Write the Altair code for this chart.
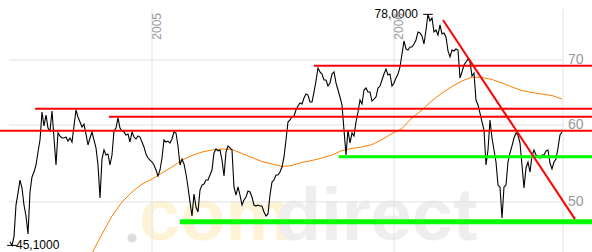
import altair as alt
import pandas as pd

# ---------------- data ----------------
# closing prices, one sample about every three days, late May 2004 .. Sep 2006
price = [
    45.50, 45.10, 46.04, 49.63, 51.06, 52.66, 51.67, 49.63, 48.36, 46.33,
    51.19, 53.04, 53.67, 54.57, 56.28, 57.90, 61.88, 59.86, 61.44, 59.57,
    59.15, 62.02, 58.18, 54.57, 58.87, 58.45, 58.18, 58.18, 58.31, 57.76,
    58.18, 57.63, 59.86, 62.17, 61.15, 60.43, 59.72, 60.14, 58.73, 57.22,
    58.18, 59.01, 57.90, 56.82, 54.57, 50.46, 55.35, 56.55, 55.88, 56.01,
    54.57, 55.88, 59.15, 59.57, 61.01, 59.57, 59.15, 59.01, 58.59, 58.73,
    57.63, 59.01, 58.31, 58.04, 58.45, 58.31, 57.63, 56.95, 56.01, 55.48,
    55.22, 54.96, 54.57, 53.93, 53.16, 53.93, 55.48, 57.90, 57.63, 57.76,
    57.49, 58.04, 59.01, 58.87, 57.09, 54.57, 55.35, 54.70, 53.42, 51.80,
    49.98, 48.36, 50.94, 49.40, 48.82, 51.43, 52.04, 52.16, 52.66, 52.66,
    53.29, 53.93, 56.15, 56.68, 56.42, 56.55, 55.22, 53.16, 56.28, 57.09,
    56.82, 56.55, 51.80, 50.82, 51.80, 50.82, 49.63, 50.22, 50.58, 51.31,
    51.19, 50.58, 49.63, 49.51, 49.63, 49.51, 49.51, 48.82, 48.36, 48.59,
    50.82, 52.41, 52.66, 53.29, 53.29, 53.67, 54.31, 55.62, 57.90, 60.43,
    60.72, 61.15, 61.29, 62.17, 62.76, 63.21, 63.06, 63.96, 64.57, 64.42,
    63.36, 63.36, 64.88, 66.60, 68.68, 68.04, 67.71, 66.76, 66.76, 65.81,
    66.29, 67.71, 68.04, 66.29, 65.19, 64.12, 62.91, 59.29, 55.88, 59.29,
    57.49, 58.87, 58.45, 60.43, 61.88, 63.66, 63.06, 65.19, 65.50, 64.88,
    64.88, 63.51, 63.81, 64.12, 65.50, 65.81, 66.76, 67.71, 68.52, 67.55,
    67.71, 65.81, 66.29, 67.08, 67.71, 68.85, 71.00, 73.23, 71.85, 71.68,
    72.19, 72.19, 72.70, 73.40, 74.81, 74.63, 74.10, 72.70, 75.16, 78.00,
    76.79, 77.33, 74.81, 75.16, 74.28, 76.06, 74.46, 74.63, 73.93, 71.51,
    70.50, 71.68, 71.51, 71.85, 71.68, 67.08, 68.04, 69.17, 69.67, 70.17,
    69.67, 67.39, 67.87, 63.66, 62.91, 61.73, 60.43, 59.29, 54.57, 56.55,
    60.72, 58.18, 56.55, 54.96, 52.04, 51.80, 48.13, 51.80, 52.04, 54.96,
    56.15, 57.09, 58.18, 58.87, 58.59, 57.49, 54.57, 51.67, 54.19, 54.96,
    53.67, 55.75, 56.55, 55.88, 55.75, 55.48, 55.88, 55.88, 56.42, 56.55,
    54.83, 54.06, 54.96, 55.35, 56.82, 58.59, 59.01,
]
T0 = 2004.4132          # first sample, in decimal years
STEP = 1 / 121          # about three days per sample

# 200-day moving average, every fifth sample starting at sample 41
ma200 = [
    44.28, 46.33, 48.36, 49.98, 51.19, 52.16, 52.79, 53.55, 54.31, 55.22,
    55.81, 56.28, 56.55, 56.68, 56.62, 56.08, 55.55, 55.02, 54.70, 54.38,
    54.51, 54.90, 55.16, 55.48, 55.88, 56.48, 56.77, 56.95, 57.29, 57.97,
    58.80, 59.50, 61.01, 62.17, 63.58, 64.73, 65.74, 66.60, 67.23, 67.15,
    66.84, 66.29, 65.66, 65.11, 64.80, 64.57, 64.34, 63.81,
]
MA_FIRST, MA_EVERY = 41, 5

# support / resistance lines: level and first date (decimal years)
red_levels = [69.06, 62.35, 61.20, 59.19]
red_from = [2005.669, 2004.517, 2004.822, 2004.372]
green_levels = [55.66, 47.71]
green_from = [2005.771, 2005.116]
green_width = [3, 5]
# falling trend line
trend_t = [2006.2025, 2006.7479]
trend_v = [76.97, 48.00]

year_ticks = [2005, 2006]
year_labels = ["2005", "2006"]
y_ticks = [50, 60, 70]
y_labels = ["50", "60", "70"]

# ---------------- layout ----------------
W, H = 592, 252
X_MIN, X_MAX = 2004.3719, 2006.8182
Y_MIN, Y_MAX = 44.40, 80.70
GRID_START, GRID_END, GRID_TOP = 2004.4091, 2006.6983, 79.0
FONT = "Liberation Sans"
WM_FONT = "Liberation Sans Narrow, Liberation Sans"
GRID_C = "#e2e2e2"
LABEL_C = "#999999"

xs = alt.Scale(domain=[X_MIN, X_MAX], nice=False, zero=False)
ys = alt.Scale(type="log", domain=[Y_MIN, Y_MAX], nice=False)


def X(f):
    return alt.X(f, type="quantitative", scale=xs, axis=None)


def Y(f):
    return alt.Y(f, type="quantitative", scale=ys, axis=None)


df_price = pd.DataFrame({"t": [T0 + i * STEP for i in range(len(price))], "v": price})
df_ma = pd.DataFrame({"t": [T0 + (MA_FIRST + MA_EVERY * i) * STEP for i in range(len(ma200))],
                      "v": ma200})
df_red = pd.DataFrame({"t": red_from, "t2": X_MAX, "v": red_levels})
df_green = pd.DataFrame({"t": green_from, "t2": X_MAX, "v": green_levels, "w": green_width})
df_trend = pd.DataFrame({"t": trend_t, "v": trend_v})
df_hgrid = pd.DataFrame({"t": GRID_START, "t2": GRID_END, "v": y_ticks, "lab": y_labels})
df_vgrid = pd.DataFrame({"t": year_ticks + [GRID_END], "v": GRID_TOP, "v2": Y_MIN})
df_years = pd.DataFrame({"t": year_ticks, "lab": year_labels})

i_max = price.index(max(price))
i_min = price.index(min(price))
half = 0.02
df_ext = pd.DataFrame({
    "t": [df_price.t[i_max], df_price.t[i_min]],
    "v": [price[i_max], price[i_min]],
    "lab": [f"{price[i_max]:.4f}".replace(".", ","), f"{price[i_min]:.4f}".replace(".", ",")],
})
df_ext["ta"] = df_ext.t - half
df_ext["tb"] = df_ext.t + half
one = pd.DataFrame({"a": [0]})

# watermark
wm_dot = alt.Chart(one).mark_circle(color="#dedede", opacity=1, size=85).encode(
    x=alt.value(132), y=alt.value(238))
wm_com = alt.Chart(one).mark_text(text="com", font=WM_FONT, fontSize=74, fontWeight="bold",
                                  color="#fdf4d8", align="left", baseline="alphabetic").encode(
    x=alt.value(139), y=alt.value(240))
wm_direct = alt.Chart(one).mark_text(text="direct", font=WM_FONT, fontSize=74, fontWeight="bold",
                                     color="#eeeeee", align="left", baseline="alphabetic").encode(
    x=alt.value(276), y=alt.value(240))

hgrid = alt.Chart(df_hgrid).mark_rule(color=GRID_C, strokeWidth=1).encode(
    x=X("t"), x2="t2", y=Y("v"))
vgrid = alt.Chart(df_vgrid).mark_rule(color=GRID_C, strokeWidth=1).encode(
    x=X("t"), y=Y("v"), y2="v2")

ma_line = alt.Chart(df_ma).mark_line(color="#ff8000", strokeWidth=1, clip=True).encode(
    x=X("t"), y=Y("v"))
price_line = alt.Chart(df_price).mark_line(color="black", strokeWidth=1.1, clip=True).encode(
    x=X("t"), y=Y("v"))

red_lines = alt.Chart(df_red).mark_rule(color="#ff0000", strokeWidth=2).encode(
    x=X("t"), x2="t2", y=Y("v"))
green_lines = alt.Chart(df_green).mark_rule(color="#00ff00").encode(
    x=X("t"), x2="t2", y=Y("v"), strokeWidth=alt.StrokeWidth("w:Q", scale=None, legend=None))
trend_line = alt.Chart(df_trend).mark_line(color="#ff0000", strokeWidth=2).encode(
    x=X("t"), y=Y("v"))

ext_ticks = alt.Chart(df_ext).mark_rule(color="black", strokeWidth=1).encode(
    x=X("ta"), x2="tb", y=Y("v"))
ext_max_lab = alt.Chart(df_ext.iloc[[0]]).mark_text(font=FONT, fontSize=12, color="black",
                                                     align="right", baseline="middle", dx=-10).encode(
    x=X("t"), y=Y("v"), text="lab:N")
ext_min_lab = alt.Chart(df_ext.iloc[[1]]).mark_text(font=FONT, fontSize=12, color="black",
                                                     align="left", baseline="middle", dx=4).encode(
    x=X("t"), y=Y("v"), text="lab:N")

y_lab = alt.Chart(df_hgrid).mark_text(font=FONT, fontSize=14, color=LABEL_C,
                                      align="left", baseline="middle").encode(
    x=alt.value(568), y=Y("v"), text="lab:N")
year_lab = alt.Chart(df_years).mark_text(font=FONT, fontSize=12, color=LABEL_C, angle=270,
                                         align="right", baseline="top").encode(
    x=X("t"), y=alt.value(13), text="lab:N")

chart = alt.layer(
    wm_dot, wm_com, wm_direct, hgrid, vgrid, ma_line, price_line,
    red_lines, green_lines, trend_line, ext_ticks, ext_max_lab, ext_min_lab, y_lab, year_lab,
).properties(width=W, height=H, autosize="none", padding=0, background="white"
).configure_view(stroke=None)

chart.save("out.html", embed_options={"renderer": "svg", "actions": False})
